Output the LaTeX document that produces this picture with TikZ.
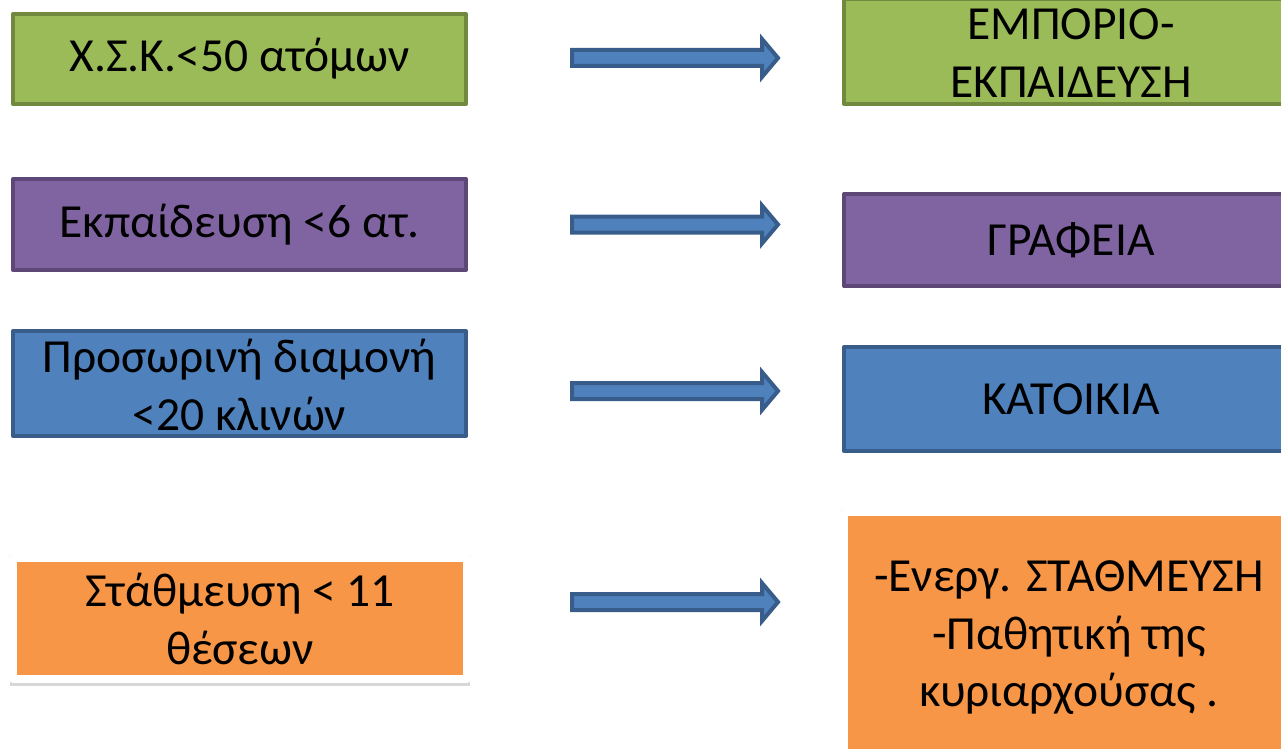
\documentclass[tikz,border=0pt]{standalone}
\usepackage{fontspec}
\setmainfont{Carlito}
\usetikzlibrary{shadows}
\definecolor{grfill}{HTML}{9BBB59}
\definecolor{grline}{HTML}{71893F}
\definecolor{pufill}{HTML}{8064A2}
\definecolor{puline}{HTML}{5C4776}
\definecolor{blfill}{HTML}{4F81BD}
\definecolor{blline}{HTML}{385D8A}
\definecolor{orfill}{HTML}{F79646}
\tikzset{
  box/.style={rectangle, line width=4pt, line join=round, inner sep=0pt,
    align=center, font=\fontsize{47.5}{57.5}\selectfont, text=black},
  greenbox/.style={box, fill=grfill, draw=grline},
  purplebox/.style={box, fill=pufill, draw=puline},
  bluebox/.style={box, fill=blfill, draw=blline},
  orangebox/.style={box, fill=orfill, draw=black!12, line width=0.8pt,
    double=white, double distance=7.2pt,
    drop shadow={shadow xshift=0pt, shadow yshift=-6pt, shadow scale=1.012, opacity=0.22, fill=black!70}},
  blockarrow/.style={fill=blfill, draw=blline, line width=4pt, line join=miter}
}
\begin{document}
\begin{tikzpicture}[x=1pt,y=-1pt]
\path[use as bounding box, clip] (0,0) rectangle (1281,754);
% left column
\node[greenbox, minimum width=453pt, minimum height=90pt] (l1) at (239.5,59) {Χ.Σ.Κ.<50 ατόμων};
\node[purplebox, minimum width=453pt, minimum height=91pt] (l2) at (239.5,224.5) {Εκπαίδευση <6 ατ.};
\node[bluebox, minimum width=453pt, minimum height=105pt] (l3) at (239.5,383.5) {\rule{0pt}{36pt}Προσωρινή διαμονή\\<20 κλινών};
\node[orangebox, minimum width=454pt, minimum height=121pt] (l4) at (240,618.5) {\rule{0pt}{34pt}Στάθμευση < 11\\θέσεων};
% right column
\node[greenbox, minimum width=454pt, minimum height=105pt] (r1) at (1071,51.5) {\rule{0pt}{34pt}ΕΜΠΟΡΙΟ-\\ΕΚΠΑΙΔΕΥΣΗ};
\node[purplebox, minimum width=454pt, minimum height=92pt] (r2) at (1071,240) {ΓΡΑΦΕΙΑ};
\node[bluebox, minimum width=454pt, minimum height=104pt] (r3) at (1071,399) {ΚΑΤΟΙΚΙΑ};
\node[orangebox, minimum width=450pt, minimum height=241pt] (r4) at (1069,632.5) {\rule{0pt}{41pt}-Ενεργ. ΣΤΑΘΜΕΥΣΗ\\-Παθητική της\\κυριαρχούσας .};
% block arrows
\foreach \y in {58,224.5,391,602}{
  \draw[blockarrow] (572,\y-8) -- (762,\y-8) -- (762,\y-19) -- (778,\y) -- (762,\y+19) -- (762,\y+8) -- (572,\y+8) -- cycle;
}
\end{tikzpicture}
\end{document}
